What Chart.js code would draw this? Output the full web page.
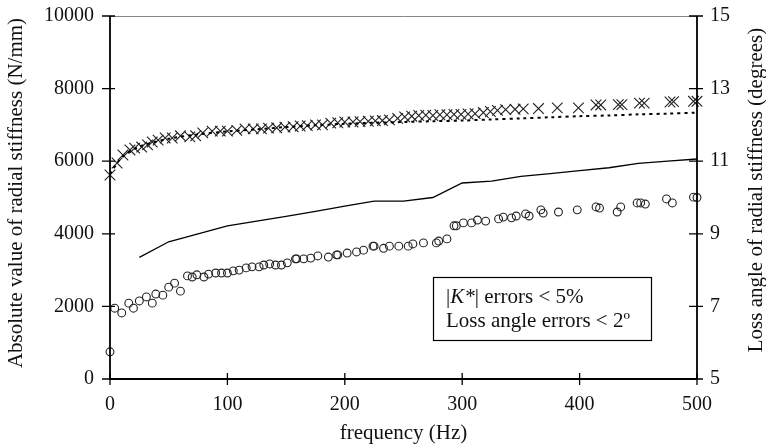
<!DOCTYPE html>
<html>
<head>
<meta charset="utf-8">
<script src="https://cdn.jsdelivr.net/npm/chart.js@4"></script>
<style>
html,body{margin:0;padding:0;background:#fff;}
#wrap{width:766px;height:447px;position:relative;}
</style>
</head>
<body>
<div id="wrap"><canvas id="c" width="766" height="447"></canvas></div>
<script>
// |K*| measured (crosses), N/mm
const kFreq = [0,6,11,17,21,27,32,36,41,47,53,60,68,73,79,87,94,100,108,115,122,129,135,142,149,156,162,168,175,181,188,194,200,207,213,220,226,232,238,245,251,257,263,269,275,281,287,293,299,305,311,318,324,330,337,345,352,365,381,399,414,418,433,436,451,455,477,480,497,500];
const kVal = [5620,5950,6170,6310,6360,6390,6450,6530,6580,6640,6640,6700,6670,6700,6780,6830,6830,6830,6850,6890,6890,6890,6910,6920,6940,6950,6970,6980,7000,7000,7050,7060,7080,7080,7090,7100,7110,7120,7140,7180,7220,7240,7260,7270,7260,7280,7280,7290,7290,7300,7310,7340,7370,7400,7420,7430,7440,7450,7470,7470,7550,7550,7560,7560,7600,7600,7630,7640,7650,7650];
// |K*| dotted curve, N/mm
const kFitFreq = [0,10,25,50,75,100,125,150,175,200,225,250,275,300,325,350,375,400,425,450,475,500];
const kFitVal = [5650,6100,6400,6620,6740,6820,6880,6940,6990,7030,7060,7080,7100,7120,7150,7180,7210,7240,7260,7290,7310,7340];
// loss angle solid curve, degrees
const lossFitFreq = [25,50,75,100,125,150,175,200,225,250,275,300,325,350,375,400,425,450,475,500];
const lossFitVal = [8.35,8.78,9.0,9.22,9.35,9.48,9.62,9.76,9.9,9.9,10.0,10.4,10.45,10.58,10.66,10.74,10.82,10.94,11.0,11.06];
// loss angle measured (circles), degrees
const lossFreq = [0,4,10,16,20,25,31,36,39,45,50,55,60,66,70,74,80,84,90,95,100,105,110,116,121,127,131,136,141,146,151,158,159,165,171,177,186,193,194,202,210,216,224,225,233,238,246,254,258,267,278,280,287,293,295,301,308,313,320,331,335,342,346,354,357,367,369,382,398,414,417,432,435,449,452,456,474,479,497,500];
const lossVal = [5.75,6.95,6.82,7.09,6.95,7.15,7.26,7.09,7.34,7.31,7.53,7.64,7.42,7.84,7.81,7.87,7.81,7.89,7.92,7.92,7.92,7.98,8.00,8.06,8.09,8.09,8.14,8.17,8.14,8.14,8.20,8.31,8.31,8.31,8.33,8.39,8.36,8.42,8.42,8.47,8.50,8.55,8.66,8.66,8.60,8.66,8.66,8.66,8.72,8.75,8.75,8.80,8.86,9.22,9.22,9.30,9.30,9.38,9.35,9.41,9.46,9.44,9.49,9.55,9.49,9.66,9.57,9.60,9.66,9.74,9.71,9.60,9.74,9.85,9.85,9.82,9.96,9.85,10.01,10.0];
// ticks
const xTicks = [0,100,200,300,400,500];
const yTicks = [0,2000,4000,6000,8000,10000];
const y1Ticks = [5,7,9,11,13,15];
const xTitle = 'frequency (Hz)';
const yTitle = 'Absolute value of radial stiffness (N/mm)';
const y1Title = 'Loss angle of radial stiffness (degrees)';
const noteLine1 = ['|', 'K*', '| errors < 5%'];
const noteLine2 = 'Loss angle errors < 2º';

const pts = (xs, ys) => xs.map((x, i) => ({x: x, y: ys[i]}));
const FONT = "'Liberation Serif', 'Times New Roman', serif";

const overlay = {
  id: 'overlay',
  afterDraw(chart) {
    const ctx = chart.ctx, ca = chart.chartArea;
    const sx = chart.scales.x, sy = chart.scales.y, sy1 = chart.scales.y1;
    ctx.save();
    // top border
    ctx.strokeStyle = '#888'; ctx.lineWidth = 1;
    ctx.beginPath(); ctx.moveTo(ca.left, ca.top + 0.5); ctx.lineTo(ca.right, ca.top + 0.5); ctx.stroke();
    // axes
    ctx.strokeStyle = '#000'; ctx.lineWidth = 1.8;
    ctx.beginPath();
    ctx.moveTo(ca.left, ca.top); ctx.lineTo(ca.left, ca.bottom);
    ctx.moveTo(ca.left, ca.bottom); ctx.lineTo(ca.right, ca.bottom);
    ctx.moveTo(ca.right, ca.top); ctx.lineTo(ca.right, ca.bottom);
    ctx.stroke();
    // ticks
    ctx.lineWidth = 1.3;
    ctx.beginPath();
    xTicks.forEach(v => { const p = sx.getPixelForValue(v); ctx.moveTo(p, ca.bottom - 6); ctx.lineTo(p, ca.bottom + 6); });
    yTicks.forEach(v => { const p = sy.getPixelForValue(v); ctx.moveTo(ca.left - 8, p); ctx.lineTo(ca.left + 5, p); });
    y1Ticks.forEach(v => { const p = sy1.getPixelForValue(v); ctx.moveTo(ca.right - 8, p); ctx.lineTo(ca.right + 6, p); });
    ctx.stroke();
    // titles
    ctx.fillStyle = '#111';
    ctx.font = '21px ' + FONT;
    ctx.textAlign = 'center'; ctx.textBaseline = 'middle';
    ctx.fillText(xTitle, (ca.left + ca.right) / 2, 433);
    ctx.save(); ctx.translate(16, 193); ctx.rotate(-Math.PI / 2); ctx.fillText(yTitle, 0, 0); ctx.restore();
    ctx.save(); ctx.translate(756, 190); ctx.rotate(-Math.PI / 2); ctx.fillText(y1Title, 0, 0); ctx.restore();
    // note box
    const bx = ca.left + 323, by = ca.top + 261, bw = 218, bh = 63;
    ctx.fillStyle = '#fff'; ctx.fillRect(bx, by, bw, bh);
    ctx.strokeStyle = '#000'; ctx.lineWidth = 1.2; ctx.strokeRect(bx + 0.5, by + 0.5, bw, bh);
    ctx.fillStyle = '#111'; ctx.textAlign = 'left'; ctx.textBaseline = 'alphabetic';
    let tx = bx + 13; const l1 = by + 26, l2 = by + 50;
    ctx.font = '21px ' + FONT; ctx.fillText(noteLine1[0], tx, l1); tx += ctx.measureText(noteLine1[0]).width;
    ctx.font = 'italic 21px ' + FONT; ctx.fillText(noteLine1[1], tx, l1); tx += ctx.measureText(noteLine1[1]).width;
    ctx.font = '21px ' + FONT; ctx.fillText(noteLine1[2], tx, l1);
    ctx.fillText(noteLine2, bx + 13, l2);
    ctx.restore();
  }
};

const fixV = w => s => { s.width = w; s.paddingTop = 0; s.paddingBottom = 0; };

new Chart(document.getElementById('c'), {
  type: 'scatter',
  data: {
    datasets: [
      { label: 'K fit', data: pts(kFitFreq, kFitVal), yAxisID: 'y', showLine: true, pointRadius: 0,
        borderColor: '#000', borderWidth: 2, borderDash: [3, 4], fill: false, tension: 0.3 },
      { label: 'K', data: pts(kFreq, kVal), yAxisID: 'y', pointStyle: 'crossRot', pointRadius: 7.5,
        borderColor: '#222', borderWidth: 1.1, backgroundColor: '#222', clip: false },
      { label: 'loss fit', data: pts(lossFitFreq, lossFitVal), yAxisID: 'y1', showLine: true, pointRadius: 0,
        borderColor: '#000', borderWidth: 1.3, fill: false },
      { label: 'loss', data: pts(lossFreq, lossVal), yAxisID: 'y1', pointStyle: 'circle', pointRadius: 3.9,
        borderColor: '#222', borderWidth: 1.1, backgroundColor: 'rgba(0,0,0,0)', clip: false }
    ]
  },
  options: {
    responsive: false, animation: false,
    layout: { padding: { top: 16, left: 0, right: 0, bottom: 0 } },
    plugins: { legend: { display: false }, tooltip: { enabled: false } },
    scales: {
      x: { type: 'linear', min: 0, max: 500,
        grid: { display: false, drawTicks: false }, border: { display: false },
        ticks: { stepSize: 100, padding: 14, color: '#111', font: { family: FONT, size: 20 } },
        afterFit: s => { s.height = 68; s.paddingLeft = 0; s.paddingRight = 0; } },
      y: { type: 'linear', position: 'left', min: 0, max: 10000,
        grid: { display: false, drawTicks: false }, border: { display: false },
        ticks: { stepSize: 2000, padding: 16, color: '#111', font: { family: FONT, size: 20 }, callback: v => String(v) },
        afterFit: fixV(110) },
      y1: { type: 'linear', position: 'right', min: 5, max: 15,
        grid: { display: false, drawTicks: false }, border: { display: false },
        ticks: { stepSize: 2, padding: 13, color: '#111', font: { family: FONT, size: 20 }, callback: v => String(v) },
        afterFit: fixV(69) }
    }
  },
  plugins: [overlay]
});
</script>
</body>
</html>
